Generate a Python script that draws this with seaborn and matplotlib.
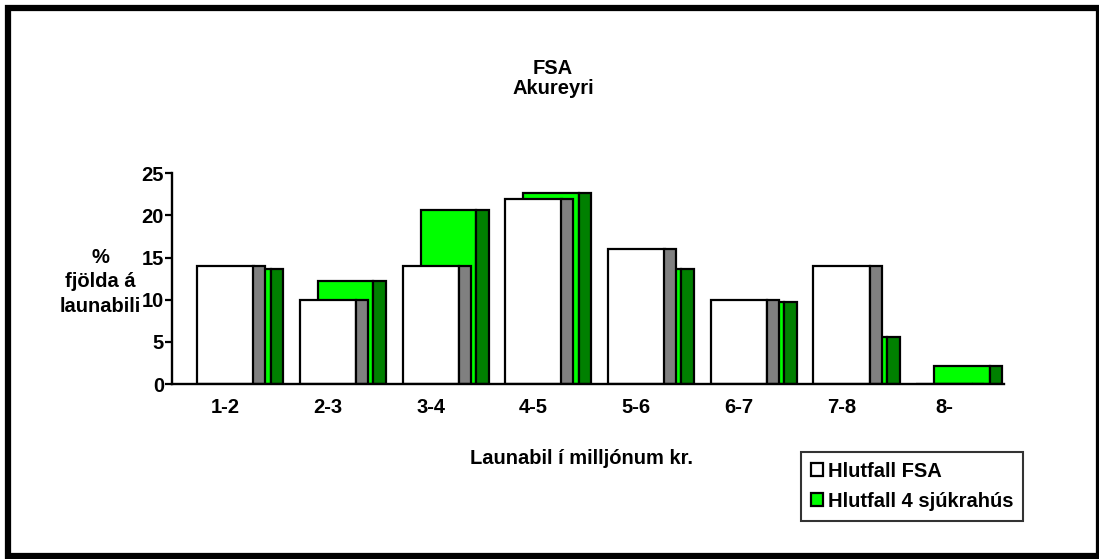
import numpy as np
import pandas as pd
import matplotlib
matplotlib.use("Agg")
import matplotlib.pyplot as plt
from matplotlib.patches import Patch, Rectangle
import seaborn as sns

# ---- data ----
categories = ["1-2", "2-3", "3-4", "4-5", "5-6", "6-7", "7-8", "8-"]
fsa = [14.0, 10.0, 14.0, 22.0, 16.0, 10.0, 14.0, 0.0]
sjukrahus = [13.7, 12.2, 20.7, 22.7, 13.6, 9.7, 5.6, 2.1]
yticks = [0, 5, 10, 15, 20, 25]
series_names = ["Hlutfall FSA", "Hlutfall 4 sjúkrahús"]

# ---- style ----
sns.set_style("white")
plt.rcParams["font.family"] = ["Liberation Sans", "DejaVu Sans"]
plt.rcParams["font.weight"] = "bold"
for k in ["text.color", "axes.labelcolor", "xtick.color", "ytick.color"]:
    plt.rcParams[k] = "black"
FS = 14.5

W, H = 1099, 559
fig = plt.figure(figsize=(W / 100, H / 100), dpi=100)
ax = fig.add_axes([172 / W, 1 - 384 / H, (1004 - 172) / W, (384 - 173.3) / H])

pos = np.arange(len(categories))

# layers: (values, center offset, width, face colour) - back to front
layers = [
    (sjukrahus, 0.17, 0.54, "#00FF00"),   # green front face
    (sjukrahus, 0.502, 0.124, "#008000"), # green side face
    (fsa, 0.0, 0.55, "#FFFFFF"),          # white front face
    (fsa, 0.33, 0.117, "#808080"),        # grey side face
]
for vals, off, wid, col in layers:
    df = pd.DataFrame({"x": pos + off, "y": vals})
    sns.barplot(data=df, x="x", y="y", native_scale=True, width=wid,
                color=col, saturation=1, edgecolor="black", linewidth=1.6,
                errorbar=None, ax=ax)

ax.set_xlim(-0.52, 7.58)
ax.set_ylim(0, 25)
ax.set_yticks(yticks)
ax.set_yticklabels([str(t) for t in yticks], fontsize=FS, fontweight="bold")
ax.set_xticks(pos)
ax.set_xticklabels(categories, fontsize=FS, fontweight="bold")
ax.set_xticks(pos + 0.47, minor=True)
ax.tick_params(axis="x", which="major", length=0, pad=10)
ax.tick_params(axis="x", which="minor", direction="in", length=5, width=2.5, color="black")
ax.tick_params(axis="y", which="major", direction="out", length=4.8, width=1.6,
               color="black", pad=1, left=True)
ax.set_axisbelow(False)
for s in ["top", "right"]:
    ax.spines[s].set_visible(False)
for s in ["left", "bottom"]:
    ax.spines[s].set_color("black")
    ax.spines[s].set_linewidth(1.7)
ax.set_facecolor("white")

ax.set_xlabel("Launabil í milljónum kr.", fontsize=FS, fontweight="bold")
ax.xaxis.set_label_coords((581 - 172) / 832, (384 - 449) / 210.7)
ax.set_ylabel("%\nfjölda á\nlaunabili", fontsize=FS, fontweight="bold",
              rotation=0, linespacing=1.35, va="center", ha="center")
ax.yaxis.set_label_coords((100 - 172) / 832, (384 - 282) / 210.7)

fig.text(553 / W, 1 - 69 / H, "FSA", ha="center", va="center", fontsize=FS, fontweight="bold")
fig.text(553 / W, 1 - 88 / H, "Akureyri", ha="center", va="center", fontsize=FS, fontweight="bold")

handles = [Patch(facecolor="#FFFFFF", edgecolor="black", linewidth=1.6),
           Patch(facecolor="#00FF00", edgecolor="black", linewidth=1.6)]
leg = fig.legend(handles, series_names, loc="upper left",
                 bbox_to_anchor=(800.7 / W, 1 - 451.7 / H), borderaxespad=0,
                 frameon=True, fancybox=False, handlelength=0.6,
                 handleheight=0.6, handletextpad=0.25, borderpad=0.5,
                 labelspacing=0.55, prop={"weight": "bold", "size": FS})
leg.get_frame().set_edgecolor("black")
leg.get_frame().set_linewidth(1.5)

fig.patches.append(Rectangle((8 / W, (559 - 555.5) / H), (1098.5 - 8) / W, (555.5 - 8) / H,
                             transform=fig.transFigure, fill=False, edgecolor="black",
                             linewidth=4.5, zorder=10))

fig.savefig("out.png", dpi=100, facecolor="white")
